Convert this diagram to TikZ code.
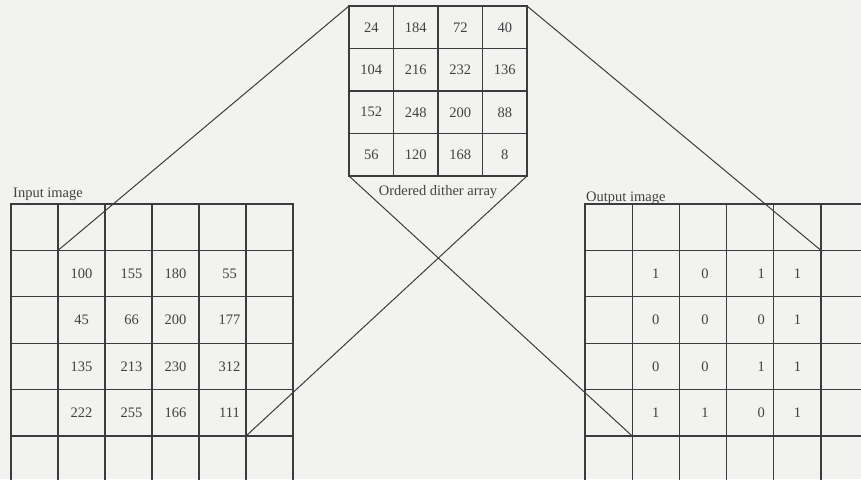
\documentclass[tikz,border=0pt]{standalone}
\usepackage{fontspec}
\setmainfont{Liberation Serif}
\definecolor{bg}{RGB}{242,242,240}
\definecolor{ink}{RGB}{60,60,60}
\definecolor{txt}{RGB}{65,65,65}
\begin{document}
\begin{tikzpicture}[x=1pt,y=-1pt,
  cell/.style={draw=ink,line width=1.1pt,rectangle,inner sep=0pt,outer sep=0pt,anchor=north west},
  incell/.style={cell,minimum width=47pt,minimum height=46.4pt},
  outcell/.style={cell,minimum width=47.2pt,minimum height=46.4pt},
  dcell/.style={cell,minimum width=44.5pt,minimum height=42.5pt,text=txt,font=\fontsize{14.5}{17}\selectfont},
  num/.style={text=txt,font=\fontsize{14.5}{17}\selectfont,inner sep=0pt},
  link/.style={draw=ink,line width=1pt},
]
\fill[bg] (0,0) rectangle (861,479);
\useasboundingbox (0,0) rectangle (861,479);
\begin{scope}
\clip (0,0) rectangle (861,479);
% input grid
\foreach \r in {1,...,6}
  \foreach \c in {1,...,6}
    \node[incell] (i-\r-\c) at ({11+(\c-1)*47},{204+(\r-1)*46.4}) {};
% output grid
\foreach \r in {1,...,6}
  \foreach \c in {1,...,6}
    \node[outcell] (o-\r-\c) at ({585+(\c-1)*47.2},{204+(\r-1)*46.4}) {};
% dither array
\foreach \row [count=\r] in {{24,184,72,40},{104,216,232,136},{152,248,200,88},{56,120,168,8}}
  \foreach \v [count=\c] in \row
    \node[dcell] (d-\r-\c) at ({349+(\c-1)*44.5},{6+(\r-1)*42.5}) {\v};
% input values
\foreach \row [count=\r from 2] in {{100,155,180,55},{45,66,200,177},{135,213,230,312},{222,255,166,111}}
  \foreach \v [count=\c from 2] in \row {
    \pgfmathsetmacro\sh{(\c==5)*7+(\c==3)*3}
    \node[num] (iv-\r-\c) at ([xshift=\sh pt]i-\r-\c.center) {\v};
  }
% output values
\foreach \row [count=\r from 2] in {{1,0,1,1},{0,0,0,1},{0,0,1,1},{1,1,0,1}}
  \foreach \v [count=\c from 2] in \row {
    \pgfmathsetmacro\sh{(\c==4)*11+(\c==3)*2}
    \node[num] (ov-\r-\c) at ([xshift=\sh pt]o-\r-\c.center) {\v};
  }
% connectors
\draw[link] (d-1-1.north west) -- (i-2-2.north west);
\draw[link] (d-4-4.south east) -- (i-6-6.north west);
\draw[link] (d-1-4.north east) -- (o-2-6.north west);
\draw[link] (d-4-1.south west) -- (o-6-2.north west);
% labels
\node[num,anchor=base west] (inlabel) at (13,197) {Input image};
\node[num,anchor=base west] (outlabel) at (586,201) {Output image};
\node[num,anchor=base] (dlabel) at (438,195) {Ordered dither array};
\end{scope}
\end{tikzpicture}
\end{document}
